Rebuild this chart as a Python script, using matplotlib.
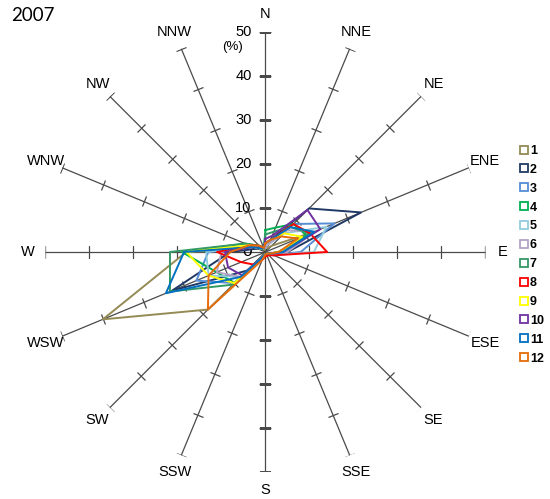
import numpy as np
import matplotlib
matplotlib.use('Agg')
import matplotlib.pyplot as plt
from matplotlib.markers import MarkerStyle
from matplotlib.transforms import Affine2D
from matplotlib.lines import Line2D

# --- data: wind direction frequency (%) per month, 2007 ---
directions = ['N', 'NNE', 'NE', 'ENE', 'E', 'ESE', 'SE', 'SSE',
              'S', 'SSW', 'SW', 'WSW', 'W', 'WNW', 'NW', 'NNW']
months = ['1', '2', '3', '4', '5', '6', '7', '8', '9', '10', '11', '12']

m1 = [1, 1, 2, 12, 3, 1, 0.5, 0.5, 0.5, 1, 18.5, 40, 18, 2, 1, 0.5]
m2 = [2, 3, 14, 23.5, 5, 1, 0.5, 0.5, 0.5, 1, 6, 23, 8, 2, 1, 1]
m3 = [1.5, 2, 9, 17, 8, 2, 0.5, 0.5, 0.5, 1, 10, 17, 13, 3, 1, 1]
m4 = [5, 6, 9, 10, 3, 1, 0.5, 0.5, 0.5, 1, 10, 12, 19, 5, 2, 1]
m5 = [1.5, 2, 6, 15, 11, 2, 0.5, 0.5, 0.5, 1, 8, 14, 13.5, 3, 1, 1]
m6 = [1, 2, 7, 12, 5, 1, 0.5, 0.5, 0.5, 1, 8, 12, 10, 3, 1, 1]
m7 = [4, 5, 8, 11, 3, 1, 0.5, 0.5, 0.5, 1, 10.5, 23.5, 21.7, 5, 2, 1]
m8 = [2, 3, 9, 11, 14, 2, 1, 1, 1, 2, 4, 6, 11, 4, 2, 1]
m9 = [2, 3, 6, 9, 3, 1, 0.5, 0.5, 0.5, 1, 10, 14, 18, 4, 1, 1]
m10 = [3, 4, 13.5, 13.5, 4, 1, 0.5, 0.5, 0.5, 1, 7.5, 9.2, 9.2, 3, 1.5, 1]
m11 = [2, 3, 8, 12, 4, 1, 0.5, 0.5, 0.5, 1, 8, 24.5, 18.5, 3, 1, 1]
m12 = [2, 3, 5, 8, 3, 1, 0.5, 0.5, 0.5, 2, 18.5, 14, 8, 4, 2, 1]
series = [m1, m2, m3, m4, m5, m6, m7, m8, m9, m10, m11, m12]

colors = ['#948A54', '#1F3864', '#558ED5', '#00B050', '#93CDDD', '#B3A2C7',
          '#339966', '#FF0000', '#FFFF00', '#7030A0', '#0070C0', '#E46C0A']

rticks = [0, 10, 20, 30, 40, 50]
rmax = 50

plt.rcParams['font.family'] = ['Liberation Sans', 'DejaVu Sans']

fig = plt.figure(figsize=(5.5, 4.99), dpi=100)
ax = fig.add_axes([0.0827, 0.0541, 0.8, 0.8818], projection='polar')
ax.set_theta_zero_location('N')
ax.set_theta_direction(-1)
ax.set_ylim(0, rmax)
ax.grid(False)
ax.spines['polar'].set_visible(False)
ax.set_xticks([])
ax.set_yticks([])
ax.patch.set_alpha(0)

theta = np.deg2rad(np.arange(len(directions)) * 360 / len(directions))

# spokes with cross ticks
for i, th in enumerate(theta):
    ax.plot([th, th], [0, rmax], color='#4a4a4a', lw=0.9, zorder=1)
    deg = np.rad2deg(th)
    mk = MarkerStyle('_', transform=Affine2D().rotate_deg(-deg))
    ax.plot([th] * (len(rticks) - 1), rticks[1:], ls='none', marker=mk,
            ms=8, mec='#4a4a4a', mew=0.9, zorder=1)
    ax.text(th, 54, directions[i], ha='center', va='center', fontsize=10.5,
            clip_on=False)

# value labels on the N axis
for v in rticks:
    ax.annotate(str(v), xy=(0, v), xytext=(-10, 0), textcoords='offset points',
                ha='right', va='center', fontsize=10.5 if v else 12.5)

# monthly series
for vals, c in zip(series, colors):
    v = list(vals) + [vals[0]]
    t = list(theta) + [theta[0]]
    ax.plot(t, v, color=c, lw=1.4, zorder=3)

fig.text(0.422, 0.905, '(%)', fontsize=9.5, ha='center', va='center')
fig.text(0.02, 0.968, '2007', fontsize=13.5, ha='left', va='center',
         family=['Lato', 'DejaVu Sans'])

handles = [Line2D([], [], ls='none', marker='s', ms=5.5, mfc='white', mec=c, mew=1.3)
           for c in colors]
leg = fig.legend(handles, months, loc='upper left', bbox_to_anchor=(0.935, 0.722),
                 frameon=False, handlelength=0.6, handletextpad=0.15,
                 labelspacing=0.55, borderpad=0, prop={'size': 9, 'weight': 'bold'})

fig.savefig('out.png', dpi=100)
